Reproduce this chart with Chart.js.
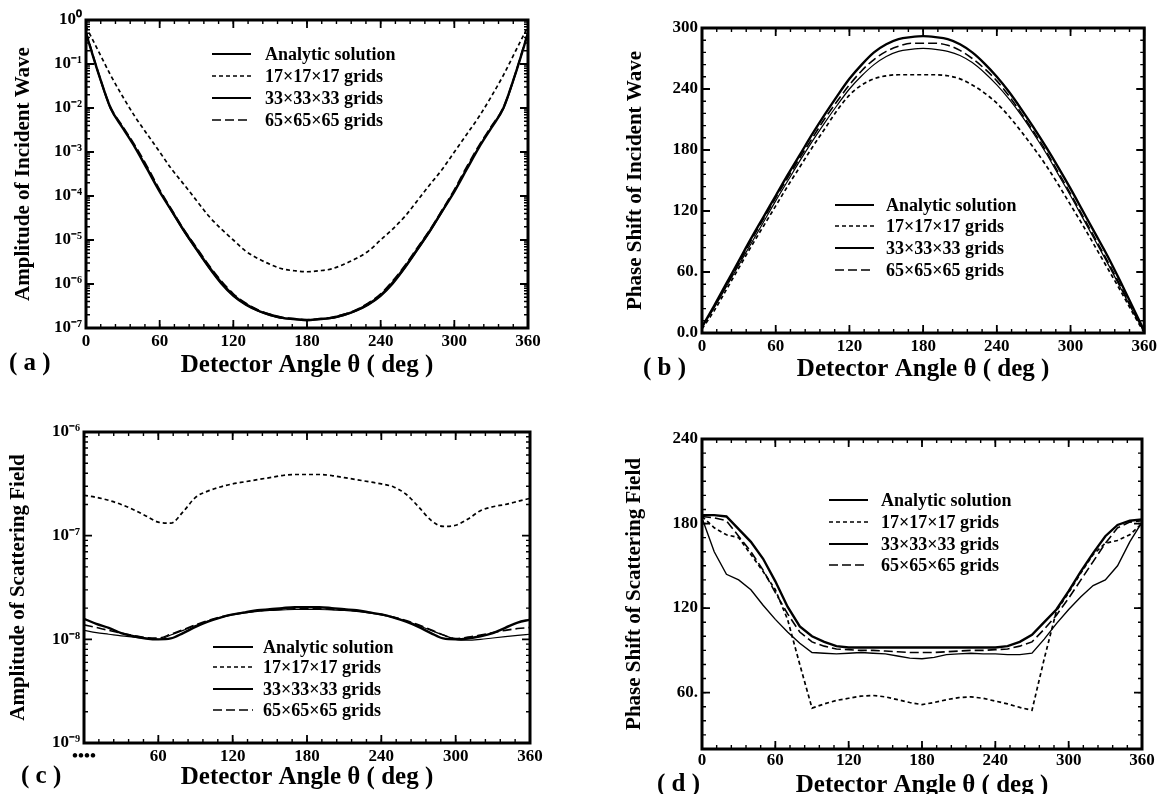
<!DOCTYPE html>
<html>
<head>
<meta charset="utf-8">
<script src="https://cdn.jsdelivr.net/npm/chart.js@4.4.0/dist/chart.umd.min.js"></script>
<style>
  html,body{margin:0;padding:0;background:#fff;}
  body{width:1160px;height:794px;position:relative;overflow:hidden;font-family:'Liberation Serif','Times New Roman',serif;}
  .panel{position:absolute;}
  .panel canvas{display:block;}
  .plabel{position:absolute;font-size:25px;font-weight:bold;line-height:30px;color:#000;white-space:pre;}
</style>
</head>
<body>
<div class="panel" style="left:0;top:0;"><canvas id="ca" width="580" height="397"></canvas></div>
<div class="panel" style="left:580px;top:0;"><canvas id="cb" width="580" height="397"></canvas></div>
<div class="panel" style="left:0;top:397px;"><canvas id="cc" width="580" height="420"></canvas></div>
<div class="panel" style="left:580px;top:397px;"><canvas id="cd" width="580" height="420"></canvas></div>
<div class="plabel" style="left:9px;top:347px;">( a )</div>
<div class="plabel" style="left:643px;top:352px;">( b )</div>
<div class="plabel" style="left:21px;top:760px;">( c )</div>
<div class="plabel" style="left:657px;top:768px;">( d )</div>
<script>
// ---------------- data ----------------
const theta = [0,10,20,30,40,50,60,70,80,90,100,110,120,130,140,150,160,170,180,
               190,200,210,220,230,240,250,260,270,280,290,300,310,320,330,340,350,360];
const seriesNames = ['Analytic solution','17×17×17 grids','33×33×33 grids','65×65×65 grids'];

const angleTicks = [0,60,120,180,240,300,360];
const angleTickLabels = ['0','60','120','180','240','300','360'];
const angleTickLabelsC = ['••••','60','120','180','240','300','360'];

// (a) Amplitude of incident wave
const incAmpAnalytic = [5.0e-1,6.3e-2,1.0e-2,3.5e-3,1.26e-3,4.0e-4,1.26e-4,4.5e-5,1.6e-5,6.3e-6,2.5e-6,1.1e-6,5.6e-7,3.5e-7,2.5e-7,2.0e-7,1.7e-7,1.6e-7,1.5e-7,
                        1.6e-7,1.7e-7,2.0e-7,2.5e-7,3.5e-7,5.6e-7,1.1e-6,2.5e-6,6.3e-6,1.6e-5,4.5e-5,1.26e-4,4.0e-4,1.26e-3,3.5e-3,1.0e-2,6.3e-2,5.0e-1];
const incAmp17 = [7.1e-1,2.0e-1,5.6e-2,1.8e-2,6.3e-3,2.5e-3,1.0e-3,4.0e-4,1.8e-4,7.9e-5,3.5e-5,1.8e-5,1.0e-5,5.6e-6,3.8e-6,2.8e-6,2.2e-6,2.0e-6,1.9e-6,
                  2.0e-6,2.2e-6,2.8e-6,3.8e-6,5.6e-6,1.0e-5,1.8e-5,3.5e-5,7.9e-5,1.8e-4,4.0e-4,1.0e-3,2.5e-3,6.3e-3,1.8e-2,5.6e-2,2.0e-1,7.1e-1];
const incAmp33 = [5.2e-1,6.0e-2,9.5e-3,3.6e-3,1.3e-3,4.3e-4,1.3e-4,4.3e-5,1.5e-5,5.8e-6,2.3e-6,1.0e-6,5.2e-7,3.3e-7,2.4e-7,1.9e-7,1.65e-7,1.55e-7,1.5e-7,
                  1.55e-7,1.65e-7,1.9e-7,2.4e-7,3.3e-7,5.2e-7,1.0e-6,2.3e-6,5.8e-6,1.5e-5,4.3e-5,1.3e-4,4.3e-4,1.3e-3,3.6e-3,9.5e-3,6.0e-2,5.2e-1];
const incAmp65 = [5.5e-1,6.5e-2,1.05e-2,3.8e-3,1.4e-3,4.6e-4,1.4e-4,4.8e-5,1.7e-5,6.8e-6,2.7e-6,1.2e-6,6.0e-7,3.7e-7,2.6e-7,2.05e-7,1.75e-7,1.62e-7,1.55e-7,
                  1.62e-7,1.75e-7,2.05e-7,2.6e-7,3.7e-7,6.0e-7,1.2e-6,2.7e-6,6.8e-6,1.7e-5,4.8e-5,1.4e-4,4.6e-4,1.4e-3,3.8e-3,1.05e-2,6.5e-2,5.5e-1];
const incAmpTicks = [1,1e-1,1e-2,1e-3,1e-4,1e-5,1e-6,1e-7];
const incAmpTickLabels = ['10⁰','10⁻¹','10⁻²','10⁻³','10⁻⁴','10⁻⁵','10⁻⁶','10⁻⁷'];

// (b) Phase shift of incident wave
const incPhaseAnalytic = [6,27,49,71,93,114,135,156,176,196,215,233,250,264,276,284,289,291,292,
                          291,289,284,276,265,252,237,220,202,183,163,142,120,98,76,52,27,2];
const incPhase17 = [4,22,43,64,85,105,125,145,164,183,201,219,234,244,250,253,254,254,254,
                    254,253,250,244,236,226,213,198,182,165,146,126,106,85,64,43,21,0];
const incPhase33 = [6,25,46,67,88,109,130,150,170,189,207,224,240,253,264,272,277,279,280,
                    279,277,273,266,256,244,230,214,196,177,156,135,113,91,69,46,23,1];
const incPhase65 = [6,26,47,69,91,112,133,153,173,192,211,228,244,258,269,277,282,285,285,
                    285,283,278,270,260,248,233,216,198,179,158,137,115,93,71,48,24,1];
const incPhaseTicks = [0,60,120,180,240,300];
const incPhaseTickLabels = ['0.0','60.','120','180','240','300'];

// (c) Amplitude of scattering field
const scatAmpAnalytic = [1.58e-8,1.41e-8,1.29e-8,1.15e-8,1.07e-8,1.02e-8,1.0e-8,1.02e-8,1.15e-8,1.32e-8,1.48e-8,1.62e-8,1.74e-8,1.82e-8,1.91e-8,1.95e-8,2.0e-8,2.04e-8,2.04e-8,
                         2.04e-8,2.0e-8,1.95e-8,1.91e-8,1.82e-8,1.74e-8,1.62e-8,1.48e-8,1.32e-8,1.15e-8,1.02e-8,1.0e-8,1.02e-8,1.07e-8,1.15e-8,1.29e-8,1.45e-8,1.55e-8];
const scatAmp17 = [2.45e-7,2.34e-7,2.19e-7,2.0e-7,1.78e-7,1.55e-7,1.35e-7,1.32e-7,1.7e-7,2.34e-7,2.69e-7,2.95e-7,3.16e-7,3.31e-7,3.47e-7,3.63e-7,3.8e-7,3.89e-7,3.89e-7,
                   3.89e-7,3.8e-7,3.63e-7,3.47e-7,3.31e-7,3.16e-7,2.95e-7,2.51e-7,1.9e-7,1.41e-7,1.23e-7,1.26e-7,1.45e-7,1.74e-7,1.9e-7,2.0e-7,2.14e-7,2.29e-7];
const scatAmp33 = [1.22e-8,1.16e-8,1.12e-8,1.08e-8,1.05e-8,1.02e-8,1.0e-8,1.1e-8,1.22e-8,1.36e-8,1.5e-8,1.62e-8,1.72e-8,1.8e-8,1.86e-8,1.9e-8,1.92e-8,1.94e-8,1.94e-8,
                   1.94e-8,1.92e-8,1.9e-8,1.86e-8,1.8e-8,1.72e-8,1.62e-8,1.5e-8,1.36e-8,1.22e-8,1.1e-8,1.0e-8,0.98e-8,1.0e-8,1.03e-8,1.06e-8,1.09e-8,1.12e-8];
const scatAmp65 = [1.38e-8,1.3e-8,1.22e-8,1.15e-8,1.09e-8,1.04e-8,1.03e-8,1.12e-8,1.24e-8,1.38e-8,1.52e-8,1.64e-8,1.74e-8,1.82e-8,1.88e-8,1.92e-8,1.95e-8,1.97e-8,1.97e-8,
                   1.97e-8,1.95e-8,1.92e-8,1.88e-8,1.82e-8,1.74e-8,1.64e-8,1.52e-8,1.38e-8,1.24e-8,1.1e-8,1.02e-8,1.05e-8,1.1e-8,1.16e-8,1.22e-8,1.27e-8,1.3e-8];
const scatAmpTicks = [1e-6,1e-7,1e-8,1e-9];
const scatAmpTickLabels = ['10⁻⁶','10⁻⁷','10⁻⁸','10⁻⁹'];

// (d) Phase shift of scattering field
const scatPhaseAnalytic = [186,186,185,176,167,155,139,121,107,100,96,93,92,92,92,92,92,92,92,
                           92,92,92,92,92,92,93,96,101,110,119,132,146,159,171,179,182,183];
const scatPhase17 = [185,177,172,170,158,146,133,112,80,49,52,54.5,56,57.5,58,57,55,53,51.5,
                     53,55,56.5,57,56,54,52,49.5,47.5,84,118,131,145,158,166,168,172,180];
const scatPhase33 = [184,160,144,140,133,122,112,103,95,88.5,88,87.5,88,88.5,88,87.5,86,84.5,84,
                     85,87,87.5,88,87.5,87.5,87,87,88,98,109,119,128,136,140,150,167,181];
const scatPhase65 = [185,184,182,171,160,147,131,116,103,96,93,91,90.5,90,90,89.5,89,88.5,88.5,
                     88.5,89,89.5,90,90,90.5,91,93,96,105,115,127,140,153,166,177,181,182];
const scatPhaseTicks = [60,120,180,240];
const scatPhaseTickLabels = ['60.','120','180','240'];

// ---------------- drawing ----------------
const SERIF = "'Liberation Serif','Times New Roman',serif";

function linearMinor(min, max, step){
  const out = [];
  for (let v = min; v <= max + 1e-9; v += step) out.push(v);
  return out;
}
function logMinor(minExp, maxExp){
  const out = [];
  for (let e = minExp; e < maxExp; e++) for (let k = 2; k <= 9; k++) out.push(k * Math.pow(10, e));
  return out;
}

const framePlugin = {
  id: 'frame',
  afterDraw(chart, args, o) {
    const {ctx, chartArea: a, scales: {x, y}} = chart;
    ctx.save();
    ctx.strokeStyle = '#000';
    ctx.lineCap = 'butt';
    const tick = (px, horiz, len, w) => {
      ctx.lineWidth = w;
      ctx.beginPath();
      if (horiz) {
        ctx.moveTo(px, a.bottom); ctx.lineTo(px, a.bottom - len);
        ctx.moveTo(px, a.top); ctx.lineTo(px, a.top + len);
      } else {
        ctx.moveTo(a.left, px); ctx.lineTo(a.left + len, px);
        ctx.moveTo(a.right, px); ctx.lineTo(a.right - len, px);
      }
      ctx.stroke();
    };
    o.xMinor.forEach(v => tick(x.getPixelForValue(v), true, 4, 1.4));
    o.xMajor.forEach(v => tick(x.getPixelForValue(v), true, 8, 1.8));
    o.yMinor.forEach(v => { const p = y.getPixelForValue(v); if (p >= a.top && p <= a.bottom) tick(p, false, 4, 1.4); });
    o.yMajor.forEach(v => tick(y.getPixelForValue(v), false, 8, 1.8));
    ctx.lineWidth = 3;
    ctx.strokeRect(a.left, a.top, a.right - a.left, a.bottom - a.top);
    // legend inside plot
    const lg = o.legend;
    chart.data.datasets.forEach((ds, i) => {
      const yy = lg.ys[i];
      ctx.beginPath();
      ctx.setLineDash(ds.borderDash || []);
      ctx.lineWidth = ds.legendWidth || ds.borderWidth;
      ctx.moveTo(lg.x1, yy); ctx.lineTo(lg.x2, yy);
      ctx.stroke();
      ctx.setLineDash([]);
      ctx.fillStyle = '#000';
      ctx.font = 'bold 18px ' + SERIF;
      ctx.textBaseline = 'middle';
      ctx.textAlign = 'left';
      ctx.fillText(ds.label, lg.tx, yy + 1);
    });
    ctx.restore();
  }
};

function buildPanel(id, cfg) {
  const datasets = cfg.series.map((vals, i) => ({
    label: seriesNames[i],
    data: theta.map((t, j) => ({x: t, y: vals[j]})),
    borderColor: '#000',
    backgroundColor: '#000',
    borderWidth: cfg.styles[i].w,
    borderDash: cfg.styles[i].dash,
    legendWidth: cfg.styles[i].lw,
    pointRadius: 0,
    fill: false,
    tension: cfg.tension,
    cubicInterpolationMode: cfg.tension ? 'monotone' : 'default'
  }));
  const tickFont = {family: SERIF, size: 17, weight: 'bold', lineHeight: 1.2};
  new Chart(document.getElementById(id), {
    type: 'line',
    data: {datasets},
    options: {
      responsive: false,
      animation: false,
      devicePixelRatio: 1,
      layout: {padding: {left: 0, top: cfg.padTop, right: cfg.padRight, bottom: 0}},
      plugins: {
        legend: {display: false},
        tooltip: {enabled: false},
        frame: {
          xMajor: angleTicks, xMinor: linearMinor(0, 360, 12),
          yMajor: cfg.yTicks, yMinor: cfg.yMinor,
          legend: cfg.legend
        }
      },
      scales: {
        x: {
          type: 'linear', position: 'bottom', min: 0, max: 360,
          afterBuildTicks: s => { s.ticks = angleTicks.map(v => ({value: v})); },
          ticks: {
            callback: (v, i) => cfg.xLabels[i],
            font: tickFont, color: '#000', padding: cfg.xTickPad,
            maxRotation: 0, autoSkip: false
          },
          grid: {display: false, drawTicks: false},
          border: {display: false},
          title: {
            display: true, text: 'Detector Angle θ ( deg )', color: '#000',
            font: {family: SERIF, size: 25, weight: 'bold', lineHeight: 1.2},
            padding: {top: 0, bottom: cfg.xTitlePad}
          },
          afterFit: s => { s.height = cfg.xHeight; }
        },
        y: {
          type: cfg.log ? 'logarithmic' : 'linear', position: 'left',
          min: cfg.yMin, max: cfg.yMax,
          afterBuildTicks: s => { s.ticks = cfg.yTicks.map(v => ({value: v})); },
          ticks: {
            callback: (v, i, arr) => cfg.yLabels[cfg.yTicks.indexOf(arr[i].value)],
            font: tickFont, color: '#000', padding: 4, autoSkip: false
          },
          grid: {display: false, drawTicks: false},
          border: {display: false},
          title: {
            display: true, text: cfg.yTitle, color: '#000',
            font: {family: SERIF, size: 21, weight: 'bold', lineHeight: 1.2},
            padding: {top: cfg.yTitlePad, bottom: 0}
          },
          afterFit: s => { s.width = cfg.yWidth; }
        }
      }
    },
    plugins: [framePlugin]
  });
}

const stylesStd = [
  {w: 2.4, dash: [], lw: 2.2},
  {w: 1.7, dash: [4, 3], lw: 1.7},
  {w: 1.2, dash: [], lw: 1.9},
  {w: 1.6, dash: [9, 4], lw: 1.7}
];

buildPanel('ca', {
  series: [incAmpAnalytic, incAmp17, incAmp33, incAmp65], styles: stylesStd, tension: 0.3,
  log: true, yMin: 1e-7, yMax: 1, yTicks: incAmpTicks, yLabels: incAmpTickLabels, yMinor: logMinor(-7, 0),
  yTitle: 'Amplitude of Incident Wave', xLabels: angleTickLabels,
  padTop: 20, padRight: 52, yWidth: 86, xHeight: 69, xTickPad: 3, xTitlePad: 16, yTitlePad: 11,
  legend: {x1: 212, x2: 251, tx: 265, ys: [54, 76, 98, 120]}
});
buildPanel('cb', {
  series: [incPhaseAnalytic, incPhase17, incPhase33, incPhase65], styles: stylesStd, tension: 0.3,
  log: false, yMin: 0, yMax: 300, yTicks: incPhaseTicks, yLabels: incPhaseTickLabels, yMinor: linearMinor(0, 300, 12),
  yTitle: 'Phase Shift of Incident Wave', xLabels: angleTickLabels,
  padTop: 28, padRight: 14, yWidth: 122, xHeight: 64, xTickPad: 3, xTitlePad: 12, yTitlePad: 43,
  legend: {x1: 255, x2: 294, tx: 306, ys: [205, 226, 248, 270]}
});
buildPanel('cc', {
  series: [scatAmpAnalytic, scatAmp17, scatAmp33, scatAmp65], styles: stylesStd, tension: 0.2,
  log: true, yMin: 1e-9, yMax: 1e-6, yTicks: scatAmpTicks, yLabels: scatAmpTickLabels, yMinor: logMinor(-9, -6),
  yTitle: 'Amplitude of Scattering Field', xLabels: angleTickLabelsC,
  padTop: 35, padRight: 50, yWidth: 84, xHeight: 74, xTickPad: 3, xTitlePad: 24, yTitlePad: 6,
  legend: {x1: 213, x2: 253, tx: 263, ys: [250, 270, 292, 313]}
});
buildPanel('cd', {
  series: [scatPhaseAnalytic, scatPhase17, scatPhase33, scatPhase65],
  styles: [{w: 2.4, dash: [], lw: 2.2}, {w: 1.7, dash: [4, 3], lw: 1.7}, {w: 1.4, dash: [], lw: 2.2}, {w: 1.6, dash: [9, 4], lw: 1.7}],
  tension: 0,
  log: false, yMin: 20, yMax: 240, yTicks: scatPhaseTicks, yLabels: scatPhaseTickLabels, yMinor: linearMinor(20, 240, 10),
  yTitle: 'Phase Shift of Scattering Field', xLabels: angleTickLabels,
  padTop: 42, padRight: 18, yWidth: 122, xHeight: 68, xTickPad: 1, xTitlePad: 16, yTitlePad: 42,
  legend: {x1: 249, x2: 288, tx: 301, ys: [103, 125, 147, 168]}
});
</script>
</body>
</html>
